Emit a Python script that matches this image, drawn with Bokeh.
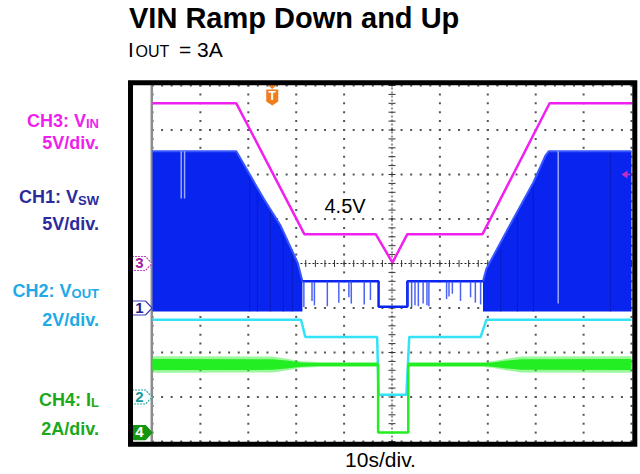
import numpy as np
from bokeh.plotting import figure
from bokeh.models import Range1d
from bokeh.core.properties import value
from bokeh.embed import file_html
from bokeh.resources import INLINE

# ---------------- data ----------------
TIME_PER_DIV_S = 10
x_div_ticks = [0, 10, 20, 30, 40, 50, 60, 70, 80, 90, 100]      # s
y_div_ticks = [0, 1, 2, 3, 4, 5, 6, 7, 8]                        # divisions

# channel offsets (divisions from bottom) and scales (units/div)
CH3_OFF, CH3_SCALE = 4.0, 5.0     # VIN 5V/div
CH1_OFF, CH1_SCALE = 3.0, 5.0     # VSW 5V/div
CH2_OFF, CH2_SCALE = 1.0, 2.0     # VOUT 2V/div
CH4_OFF, CH4_SCALE = 0.2, 2.0     # IL 2A/div

TRIGGER_T = 25.0          # s
TRIGGER_LEVEL_V = 10.0    # V on CH3

# CH3: VIN
vin_t = [0, 17.5, 31.7, 46.6, 50.1, 53.2, 68.9, 82.9, 100]
vin_v = [18.0, 18.0, 3.3, 3.3, 0.1, 3.3, 3.3, 18.0, 18.0]

# CH1: VSW switching envelope (left / right) and non-switching middle
vsw_left_t = [0, 17.5, 23.2, 26.7, 30.3, 31.3]
vsw_left_top = [17.6, 17.6, 12.3, 9.3, 5.1, 3.0]
vsw_right_t = [69.0, 69.7, 75.4, 79.5, 82.0, 82.7, 100]
vsw_right_top = [3.0, 4.4, 10.1, 14.1, 17.1, 17.6, 17.6]
VSW_FLOOR_V = -0.4
vsw_mid_t = [31.3, 47.2, 47.2, 53.2, 53.2, 69.0]
vsw_mid_v = [3.0, 3.0, 0.15, 0.15, 3.0, 3.0]
vsw_spike_t = [31.6, 33.3, 33.8, 36.5, 38.9, 41.0, 41.5, 44.2, 45.5,
               53.4, 54.1, 54.8, 55.5, 56.5, 57.3, 57.7, 61.4, 61.9,
               62.6, 64.3, 66.4, 67.4, 68.5]
vsw_spike_low = [0.1, 0.8, 0.3, 0.2, 0.6, 1.2, 0.5, 0.4, 0.9,
                 0.2, 0.1, 0.3, 0.2, 0.5, 0.3, 0.2, 1.0, 1.3,
                 1.6, 0.8, 1.2, 0.6, 0.4]
vsw_glitch_t = [6.0, 6.7, 84.7]
vsw_glitch_top = [17.6, 17.6, 17.6]
vsw_glitch_low = [12.3, 12.3, 0.5]
vsw_dark_t = [20.3, 21.9, 24.6, 27.3, 29.2, 72.7, 76.2, 79.5, 95.6]
vsw_dark_top = [14.8, 13.3, 11.0, 8.6, 6.6, 6.5, 10.2, 14.0, 17.4]

# CH2: VOUT
vout_t = [0, 31.0, 31.9, 46.9, 47.2, 53.0, 53.6, 68.5, 69.7, 100]
vout_v = [3.47, 3.47, 2.7, 2.7, 0.1, 0.1, 2.7, 2.7, 3.47, 3.47]

# CH4: IL
il_t = [0, 47.1, 47.1, 53.4, 53.4, 100]
il_a = [3.06, 3.06, 0.0, 0.0, 3.06, 3.06]
IL_LEVEL_A = 3.06
il_band_left_t = [0, 25.0, 28.0, 31.0, 35.0, 47.1]
il_band_left_hw = [0.31, 0.30, 0.22, 0.12, 0.09, 0.09]
il_band_right_t = [53.4, 69.0, 71.0, 74.0, 77.0, 100]
il_band_right_hw = [0.09, 0.09, 0.12, 0.22, 0.30, 0.31]

# texts
title_text = "VIN Ramp Down and Up"
subtitle_parts = ["I", "OUT", "= 3A"]
ch_labels = [("CH3: V", "IN", "5V/div."), ("CH1: V", "SW", "5V/div."),
             ("CH2: V", "OUT", "2V/div."), ("CH4: I", "L", "2A/div.")]
x_label = "10s/div."
annot_text = "4.5V"

# ---------------- styling / layout ----------------
FONT = "Liberation Sans"
C_MAG = "#F020F0"
C_BLUE = "#0A24F0"
C_CYAN = "#33E2F6"
C_GREEN = "#22EE22"
LBL_COLORS = ["#EE1FEE", "#2B2B9E", "#1EAAE8", "#1CA81C"]

W, H = 640, 474
PX_PER_S = 4.79
PX_PER_DIV = 44.5
X0_PX, Y0_PX = 152.0, 441.0   # page coords of t=0, div=0
BASE_FIX = 0.39               # empirical baseline correction (fraction of font size)


def tx(px):
    return (px - X0_PX) / PX_PER_S


def ty(py):
    return (Y0_PX - py) / PX_PER_DIV


def dv(v, off, scale):
    return off + np.asarray(v, dtype=float) / scale


p = figure(width=W, height=H, x_range=Range1d(tx(0), tx(W)),
           y_range=Range1d(ty(H), ty(0)), output_backend="svg",
           toolbar_location=None, x_axis_location=None, y_axis_location=None,
           min_border=0, outline_line_color=None)
p.xgrid.visible = False
p.ygrid.visible = False
p.background_fill_color = "white"
p.border_fill_color = "white"

# ---- grid dots ----
xt = np.array(x_div_ticks, dtype=float)
yt = np.array(y_div_ticks, dtype=float)
minor_y = np.arange(0, 8.0001, 0.2)
minor_x = np.arange(0, 100.001, 2.0)
gx, gy = [], []
for x in xt:
    if x == 50:
        continue
    gx.extend([x] * len(minor_y))
    gy.extend(minor_y)
for y in yt:
    if y == 4:
        continue
    gx.extend(minor_x)
    gy.extend([y] * len(minor_x))
p.scatter(gx, gy, marker="square", size=2, fill_color="#555555", line_color=None)

# center lines with ticks
p.line([50, 50], [yt[0], yt[-1]], line_color="#222222", line_width=1, line_dash="2 2")
p.line([xt[0], xt[-1]], [4, 4], line_color="#222222", line_width=1, line_dash="2 2")
p.scatter([50] * len(minor_y), minor_y, marker="dash", size=7, line_color="#333333", line_width=1)
p.scatter(minor_x, [4] * len(minor_x), marker="dash", size=7, angle=np.pi / 2,
          line_color="#333333", line_width=1)

# left gray edge
p.line([tx(151.3), tx(151.3)], [yt[0], yt[-1]], line_color="#8c8c8c", line_width=2.5)

# ---- CH1 VSW ----
for tt, top in [(vsw_left_t, vsw_left_top), (vsw_right_t, vsw_right_top)]:
    p.varea(x=tt, y1=dv([VSW_FLOOR_V] * len(tt), CH1_OFF, CH1_SCALE),
            y2=dv(top, CH1_OFF, CH1_SCALE), fill_color=C_BLUE)
p.segment(x0=vsw_dark_t, x1=vsw_dark_t,
          y0=dv([VSW_FLOOR_V] * len(vsw_dark_t), CH1_OFF, CH1_SCALE),
          y1=dv(vsw_dark_top, CH1_OFF, CH1_SCALE),
          line_color="#0818B0", line_width=1, line_alpha=0.7)
for tt, top in [(vsw_left_t, vsw_left_top), (vsw_right_t, vsw_right_top)]:
    p.line(tt, dv(top, CH1_OFF, CH1_SCALE), line_color="#3A58FF", line_width=2)
p.line(vsw_mid_t, dv(vsw_mid_v, CH1_OFF, CH1_SCALE), line_color=C_BLUE, line_width=2.5)
p.segment(x0=vsw_spike_t, x1=vsw_spike_t,
          y0=dv([3.0] * len(vsw_spike_t), CH1_OFF, CH1_SCALE),
          y1=dv(vsw_spike_low, CH1_OFF, CH1_SCALE),
          line_color="#2B48F2", line_width=1.5, line_alpha=0.85)
p.segment(x0=vsw_glitch_t, x1=vsw_glitch_t,
          y0=dv(vsw_glitch_top, CH1_OFF, CH1_SCALE),
          y1=dv(vsw_glitch_low, CH1_OFF, CH1_SCALE),
          line_color="#9AA8FF", line_width=1.5)

# ---- CH3 VIN ----
p.line(vin_t, dv(vin_v, CH3_OFF, CH3_SCALE), line_color=C_MAG, line_width=2.5)

# ---- CH2 VOUT ----
p.line(vout_t, dv(vout_v, CH2_OFF, CH2_SCALE), line_color=C_CYAN, line_width=2.5)

# ---- CH4 IL ----
for tt, hw in [(il_band_left_t, il_band_left_hw), (il_band_right_t, il_band_right_hw)]:
    hw = np.asarray(hw)
    p.varea(x=tt, y1=dv(IL_LEVEL_A - 1.2 * hw, CH4_OFF, CH4_SCALE),
            y2=dv(IL_LEVEL_A + 1.2 * hw, CH4_OFF, CH4_SCALE), fill_color=C_GREEN, fill_alpha=0.45)
    p.varea(x=tt, y1=dv(IL_LEVEL_A - 0.8 * hw, CH4_OFF, CH4_SCALE),
            y2=dv(IL_LEVEL_A + 0.8 * hw, CH4_OFF, CH4_SCALE), fill_color=C_GREEN)
p.line(il_t, dv(il_a, CH4_OFF, CH4_SCALE), line_color=C_GREEN, line_width=2.5)


# ---- texts helper ----
def txt(xp, yp, s, size, color, bold=False, align="left"):
    p.text(x=[tx(xp)], y=[ty(yp - BASE_FIX * size)], text=[s], text_font=value(FONT),
           text_font_size=f"{size}px", text_font_style="bold" if bold else "normal",
           text_color=color, text_align=align, text_baseline="alphabetic")


# ---- channel markers in the gutter ----
def marker(cdiv, fill, line, dash, label, tcolor):
    yc = Y0_PX - cdiv * PX_PER_DIV
    xs = [tx(v) for v in (131.5, 145, 151.5, 145, 131.5)]
    ys = [ty(v) for v in (yc - 7, yc - 7, yc, yc + 7, yc + 7)]
    p.patch(xs, ys, fill_color=fill, line_color=line, line_width=1.2, line_dash=dash)
    txt(139, yc + 5.5, label, 15, tcolor, bold=True, align="center")


marker(CH3_OFF, "white", "#C040C0", "2 1", "3", "#A020A0")
marker(CH1_OFF, "white", "#4040C0", "solid", "1", "#202090")
marker(CH2_OFF, "white", "#20A8A8", "2 1", "2", "#1A9A9A")
marker(CH4_OFF, "#129612", "#129612", "solid", "4", "white")

# trigger marker
tpx = X0_PX + TRIGGER_T * PX_PER_S
p.patch([tx(tpx - 6), tx(tpx + 6), tx(tpx + 6), tx(tpx), tx(tpx - 6)],
        [ty(89), ty(89), ty(101), ty(105), ty(101)], fill_color="#F07D1E", line_color=None)
p.patch([tx(tpx - 4.5), tx(tpx + 4.5), tx(tpx)], [ty(84.5), ty(84.5), ty(88.5)],
        fill_color="#F07D1E", line_color=None)
txt(tpx, 100.5, "T", 12, "white", bold=True, align="center")

# trigger level arrow (right)
lvl_y = Y0_PX - (CH3_OFF + TRIGGER_LEVEL_V / CH3_SCALE) * PX_PER_DIV
p.patch([tx(621), tx(627), tx(627)], [ty(lvl_y), ty(lvl_y - 4), ty(lvl_y + 4)],
        fill_color="#C030C0", line_color=None)
p.line([tx(626), tx(630)], [ty(lvl_y), ty(lvl_y)], line_color="#C030C0", line_width=1.5)

# black frame
p.quad(left=tx(130), right=tx(634.3), top=ty(82.3), bottom=ty(443.8), fill_color=None,
       line_color="black", line_width=5, line_join="miter")

# ---- texts ----
txt(128.5, 28.5, title_text, 29, "black", bold=True)
txt(127.6, 56.8, subtitle_parts[0], 21, "black")
txt(135.0, 56.8, subtitle_parts[1], 16, "black")
txt(178.5, 56.8, subtitle_parts[2], 21, "black")

RIGHT = 98.5
sub_w = {"IN": 13.0, "SW": 20.9, "OUT": 27.4, "L": 7.9}
baselines = [(127.3, 150.0), (204.0, 231.0), (297.3, 326.7), (406.7, 436.0)]
for (main, sub, scl), col, (b1, b2) in zip(ch_labels, LBL_COLORS, baselines):
    txt(RIGHT, b1 + 0.8, sub, 13, col, bold=True, align="right")
    txt(RIGHT - sub_w[sub], b1, main, 18, col, bold=True, align="right")
    txt(RIGHT, b2, scl, 18, col, bold=True, align="right")

txt(380, 467.5, x_label, 21, "black", align="center")
txt(324, 213.3, annot_text, 20, "black")

open("out.html", "w").write(file_html(p, INLINE))
